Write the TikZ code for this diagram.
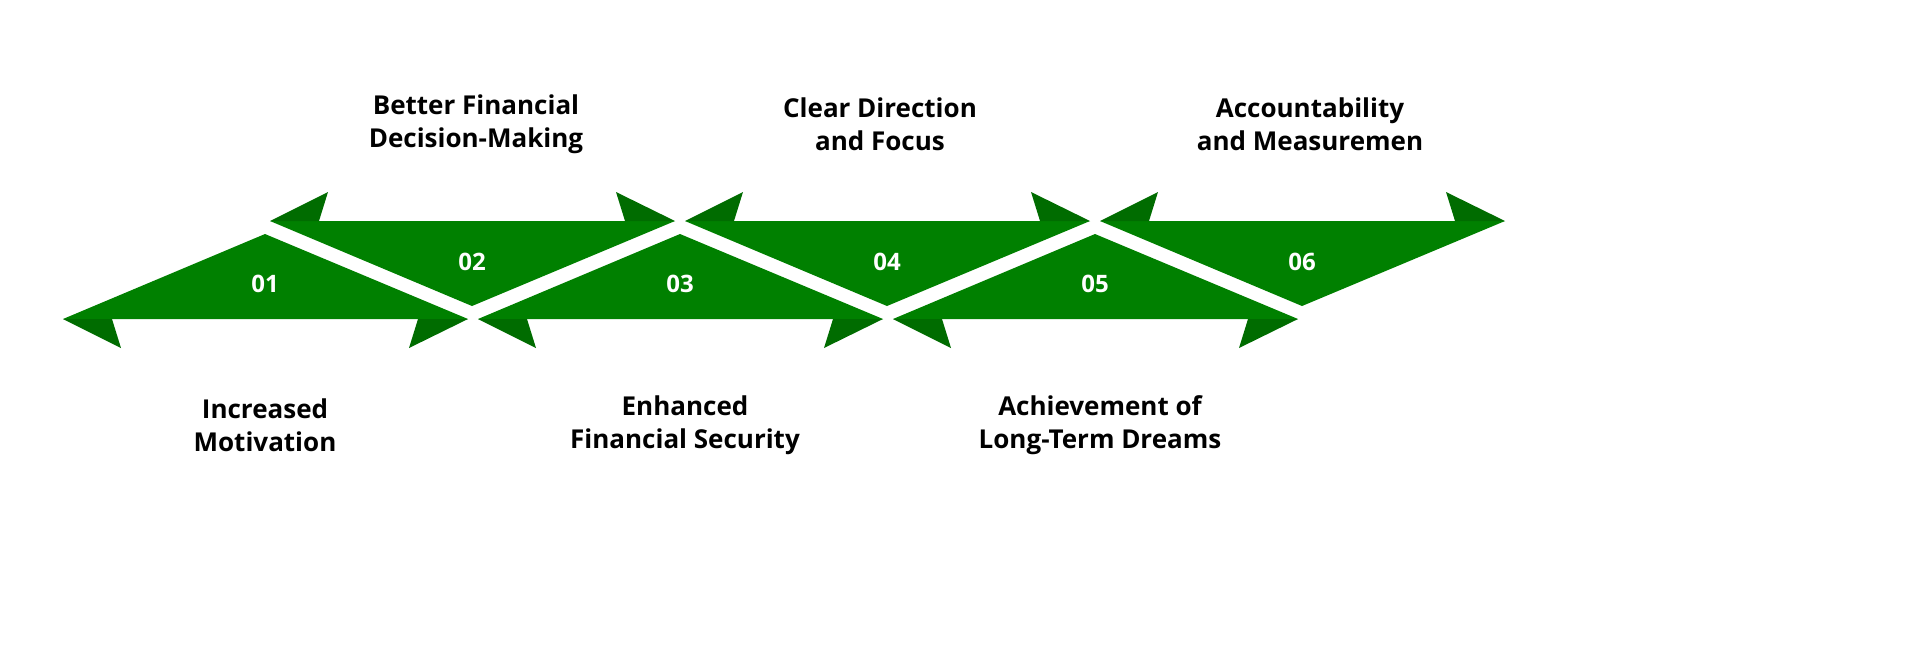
\documentclass[tikz,border=0pt]{standalone}
\usepackage{fontspec}
\setmainfont{Open Sans}
\definecolor{arrowgreen}{RGB}{0,128,0}
\definecolor{winggreen}{RGB}{0,108,0}
\tikzset{
  num/.style={text=white,font=\fontsize{12}{12}\selectfont\bfseries},
  caption/.style={align=center,font=\fontsize{13}{16.5}\selectfont\bfseries}
}
\begin{document}
\begin{tikzpicture}[x=0.5pt,y=-0.5pt]
  \useasboundingbox (0,0) rectangle (1920,661);
  % lower arrows
  \foreach \i/\n in {0/01,1/03,2/05} {
    \pgfmathsetmacro{\cx}{265+415*\i}
    \fill[arrowgreen] (\cx,234)--(\cx+203,319)--(\cx-202,319)--cycle;
    \fill[winggreen] (\cx-202,319)--(\cx-144,348)--(\cx-153,319)--cycle;
    \fill[winggreen] (\cx+203,319)--(\cx+144,348)--(\cx+153,319)--cycle;
    \node[num] (n\n) at (\cx,284) {\n};
  }
  % upper arrows
  \foreach \i/\n in {0/02,1/04,2/06} {
    \pgfmathsetmacro{\cx}{472+415*\i}
    \fill[arrowgreen] (\cx,306)--(\cx+203,221)--(\cx-202,221)--cycle;
    \fill[winggreen] (\cx-202,221)--(\cx-144,192)--(\cx-153,221)--cycle;
    \fill[winggreen] (\cx+203,221)--(\cx+144,192)--(\cx+153,221)--cycle;
    \node[num] (n\n) at (\cx,262) {\n};
  }

  \node[caption] (motivation) at (265,425) {Increased\\Motivation};
  \node[caption] (security) at (685,425) {Enhanced\\Financial Security};
  \node[caption] (dreams) at (1100,425) {Achievement of\\Long-Term Dreams};
  \node[caption] (decision) at (476,124) {Better Financial\\Decision-Making};
  \node[caption] (direction) at (880,124) {Clear Direction\\and Focus};
  \node[caption] (accountability) at (1310,124) {Accountability\\and Measuremen};
\end{tikzpicture}
\end{document}
